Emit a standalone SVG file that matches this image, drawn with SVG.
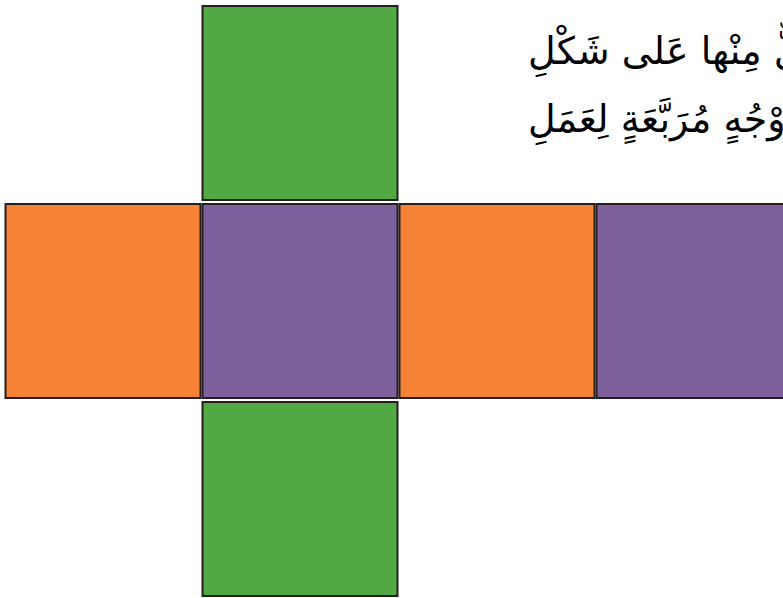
<svg xmlns="http://www.w3.org/2000/svg" width="783" height="598" viewBox="0 0 783 598">
<style>
.sq{stroke:#231f20;stroke-width:2}
.g{fill:#52a843}
.o{fill:#f58235}
.p{fill:#7e619c}
.t{font-family:"DejaVu Sans","Noto Sans",sans-serif;font-size:38px;fill:#000}
</style>
<rect width="783" height="598" fill="#fff"/>
<g id="face-top"><rect class="sq g" x="202.5" y="6" width="195" height="194"/></g>
<g id="face-left"><rect class="sq o" x="5.5" y="204" width="195" height="194"/></g>
<g id="face-center"><rect class="sq p" x="202.5" y="204" width="195" height="194"/></g>
<g id="face-right1"><rect class="sq o" x="399.5" y="204" width="195" height="194"/></g>
<g id="face-right2"><rect class="sq p" x="596.5" y="204" width="195" height="194"/></g>
<g id="face-bottom"><rect class="sq g" x="202.5" y="402" width="195" height="194"/></g>
<g id="connectors"></g>
<g id="caption">
<text class="t" x="528" y="64" direction="rtl" text-anchor="end">كُلٌّ مِنْها عَلى شَكْلِ</text>
<text class="t" x="528" y="132" direction="rtl" text-anchor="end">أَوْجُهٍ مُرَبَّعَةٍ لِعَمَلِ</text>
</g>
</svg>
